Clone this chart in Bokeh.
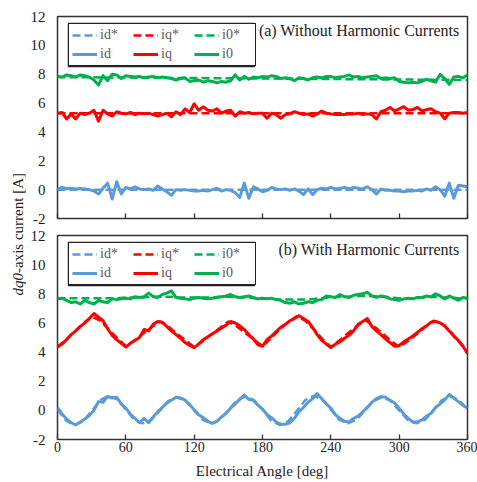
import numpy as np
from bokeh.plotting import figure
from bokeh.layouts import row, column
from bokeh.models import Legend, LegendItem, Label, FixedTicker, BoxAnnotation
from bokeh.embed import file_html
from bokeh.resources import INLINE

# ---------------- data ----------------
angle_meas = list(range(0, 361, 4))          # measured sample angles [deg]
angle_ref_a = [0, 90, 180, 270, 360]          # reference sample angles, panel (a)
angle_ref_b = [i * 7.5 for i in range(49)]    # reference sample angles, panel (b)
x_ticks = [0, 60, 120, 180, 240, 300, 360]
y_ticks = [-2, 0, 2, 4, 6, 8, 10, 12]
y_tick_labels = {-2: "-2", 0: "0", 2: "2", 4: "4", 6: "6", 8: "8", 10: "10", 12: "12"}

# (a) Without harmonic currents -- references
a_id_ref = [0.0, 0.0, 0.0, 0.0, 0.0]
a_iq_ref = [5.3, 5.3, 5.3, 5.3, 5.3]
a_i0_ref = [7.8, 7.75, 7.7, 7.65, 7.6]

# (a) measured
a_id = [0.00, 0.15, 0.08, 0.10, 0.05, 0.08, 0.05, 0.00, -0.10, -0.30,
        0.10, 0.45, -0.65, 0.55, -0.30, 0.15, 0.05, 0.20, 0.05, 0.00,
        0.05, -0.05, 0.25, 0.05, -0.15, -0.40, 0.00, -0.05, 0.00, -0.05,
        -0.10, -0.10, -0.05, -0.10, 0.00, 0.10, -0.10, 0.00, -0.05, -0.20,
        -0.55, 0.45, -0.60, 0.20, 0.05, -0.15, -0.05, 0.15, 0.05, 0.00,
        0.05, -0.05, 0.05, -0.10, -0.35, 0.05, -0.35, 0.00, 0.10, 0.05,
        0.15, 0.05, 0.10, 0.15, 0.05, 0.15, 0.10, 0.05, 0.20, 0.00,
        -0.30, 0.05, -0.05, -0.05, -0.10, -0.10, -0.15, -0.10, -0.10, -0.05,
        -0.10, 0.05, -0.05, 0.20, 0.00, -0.45, 0.45, -0.60, 0.30, 0.25,
        0.20]
a_iq = [5.30, 5.35, 4.90, 5.25, 4.90, 5.30, 5.20, 5.30, 5.50, 4.75,
        5.50, 5.25, 5.10, 5.40, 5.30, 5.25, 5.35, 5.20, 5.30, 5.25,
        5.30, 5.20, 5.10, 5.20, 5.30, 5.05, 5.40, 5.20, 5.60, 5.35,
        5.95, 5.50, 5.75, 5.50, 5.45, 5.60, 5.30, 5.45, 5.50, 5.10,
        5.40, 5.30, 5.35, 5.25, 5.30, 5.30, 4.95, 5.30, 5.20, 4.95,
        5.20, 5.25, 5.40, 5.30, 5.20, 5.25, 5.10, 5.25, 5.45, 5.30,
        5.25, 5.20, 5.20, 5.20, 5.25, 5.25, 5.30, 5.20, 5.25, 5.20,
        4.90, 5.40, 5.50, 5.70, 5.45, 5.60, 5.75, 5.50, 5.55, 5.70,
        5.45, 5.55, 5.60, 5.40, 5.30, 4.90, 5.30, 5.35, 5.35, 5.30,
        5.35]
a_i0 = [7.85, 7.80, 7.95, 7.90, 7.80, 7.95, 7.90, 7.80, 7.60, 7.25,
        7.90, 7.55, 8.00, 7.95, 7.70, 7.90, 7.85, 7.80, 7.85, 7.75,
        7.80, 7.85, 7.75, 7.80, 7.75, 7.70, 7.60, 7.70, 7.75, 7.50,
        7.55, 7.60, 7.45, 7.55, 7.50, 7.40, 7.50, 7.45, 7.55, 7.95,
        7.60, 7.85, 7.65, 7.80, 7.75, 7.85, 7.80, 7.90, 7.85, 7.70,
        7.75, 7.70, 7.55, 7.75, 7.70, 7.60, 7.75, 7.80, 7.75, 7.85,
        7.85, 7.75, 7.80, 7.85, 7.95, 7.80, 7.85, 7.75, 7.80, 7.85,
        7.90, 7.70, 7.75, 7.70, 7.75, 7.50, 7.45, 7.40, 7.45, 7.40,
        7.50, 7.65, 7.55, 7.45, 8.00, 7.70, 7.30, 7.80, 7.85, 7.75,
        7.95]

# (b) With harmonic currents -- references
b_id_ref = [0.05, -0.70, -1.00, -0.75, -0.05, 0.70, 1.00, 0.75, 0.05, -0.65,
            -0.90, -0.65, 0.00, 0.65, 0.90, 0.65, 0.00, -0.65, -0.90, -0.65,
            0.00, 0.70, 0.95, 0.70, 0.05, -0.70, -1.00, -0.75, -0.05, 0.70,
            1.00, 0.75, 0.05, -0.65, -0.90, -0.65, 0.00, 0.65, 0.90, 0.65,
            0.00, -0.65, -0.90, -0.65, 0.00, 0.70, 0.95, 0.70, 0.05]
b_iq_ref = [4.35, 4.85, 5.40, 5.95, 6.45, 6.15, 5.55, 4.95, 4.40, 4.80,
            5.25, 5.70, 6.10, 5.75, 5.25, 4.80, 4.35, 4.75, 5.20, 5.65,
            6.10, 5.75, 5.30, 4.85, 4.40, 4.95, 5.55, 6.05, 6.45, 6.15,
            5.55, 4.90, 4.35, 4.80, 5.30, 5.75, 6.20, 5.80, 5.30, 4.80,
            4.35, 4.75, 5.20, 5.70, 6.15, 5.95, 5.40, 4.70, 4.05]
b_i0_ref = [7.70, 7.70, 7.70, 7.70, 7.70, 7.70, 7.70, 7.70, 7.75, 7.75,
            7.75, 7.80, 7.80, 7.80, 7.75, 7.75, 7.75, 7.75, 7.75, 7.80,
            7.80, 7.75, 7.75, 7.70, 7.70, 7.65, 7.60, 7.60, 7.60, 7.60,
            7.65, 7.70, 7.75, 7.80, 7.80, 7.85, 7.85, 7.85, 7.80, 7.75,
            7.70, 7.70, 7.70, 7.75, 7.80, 7.75, 7.75, 7.70, 7.70]

# (b) measured
b_id = [0.20, -0.25, -0.60, -0.85, -1.00, -0.80, -0.60, -0.35, 0.00, 0.60,
        0.55, 0.95, 0.85, 0.90, 0.45, 0.15, -0.25, -0.55, -0.85, -0.55,
        -0.85, -0.45, -0.10, 0.20, 0.50, 0.70, 0.90, 0.85, 0.70, 0.40,
        0.05, -0.30, -0.50, -0.75, -0.90, -0.75, -0.45, -0.20, 0.15, 0.45,
        0.75, 1.05, 0.75, 0.70, 0.35, 0.10, -0.30, -0.50, -0.80, -0.95,
        -0.95, -0.85, -0.55, -0.10, 0.20, 0.55, 0.80, 1.15, 0.80, 0.45,
        0.15, -0.30, -0.55, -0.75, -0.80, -0.55, -0.40, -0.10, 0.20, 0.55,
        0.80, 0.95, 0.90, 0.70, 0.50, 0.15, -0.25, -0.55, -0.80, -0.80,
        -0.65, -0.40, -0.20, 0.20, 0.45, 0.70, 1.10, 0.85, 0.60, 0.35,
        0.15]
b_iq = [4.35, 4.55, 4.85, 5.20, 5.45, 5.75, 6.00, 6.30, 6.65, 6.40,
        6.15, 5.60, 5.15, 4.85, 4.60, 4.35, 4.60, 4.80, 5.00, 5.55,
        5.45, 5.90, 6.10, 6.05, 5.75, 5.45, 5.20, 4.95, 4.65, 4.45,
        4.30, 4.55, 4.85, 5.05, 5.25, 5.45, 5.65, 5.85, 6.10, 6.00,
        5.80, 5.55, 5.20, 4.90, 4.50, 4.40, 4.85, 5.10, 5.40, 5.70,
        5.90, 6.15, 6.30, 6.50, 6.30, 6.10, 5.70, 5.20, 4.80, 4.55,
        4.30, 4.55, 4.70, 4.95, 5.15, 5.45, 5.90, 6.10, 6.30, 5.75,
        5.45, 5.20, 4.90, 4.65, 4.40, 4.45, 4.70, 4.90, 5.10, 5.35,
        5.60, 5.80, 6.05, 6.10, 6.00, 5.80, 5.45, 5.10, 4.80, 4.40,
        3.90]
b_i0 = [7.65, 7.70, 7.55, 7.40, 7.45, 7.30, 7.55, 7.40, 7.30, 7.55,
        7.45, 7.40, 7.65, 7.60, 7.65, 7.70, 7.65, 7.80, 7.75, 7.80,
        8.05, 7.80, 7.75, 7.95, 8.05, 8.20, 7.75, 7.70, 7.65, 7.60,
        7.70, 7.75, 7.70, 7.65, 7.70, 7.75, 7.80, 7.85, 7.95, 7.80,
        7.75, 7.80, 7.85, 7.75, 7.65, 7.70, 7.65, 7.70, 7.60, 7.55,
        7.40, 7.35, 7.45, 7.30, 7.35, 7.45, 7.40, 7.55, 7.60, 7.85,
        7.80, 7.75, 7.95, 7.80, 7.75, 7.90, 7.95, 8.00, 8.10, 7.85,
        7.75, 7.85, 7.80, 7.65, 7.60, 7.55, 7.65, 7.70, 7.65, 7.75,
        7.75, 7.85, 7.80, 8.00, 7.85, 7.65, 7.85, 7.70, 7.55, 7.75,
        7.70]

for s in (a_id, a_iq, a_i0, b_id, b_iq, b_i0):
    assert len(s) == len(angle_meas)
for s in (b_id_ref, b_iq_ref, b_i0_ref):
    assert len(s) == len(angle_ref_b)

# ---------------- style ----------------
SERIF = "Liberation Serif"
C_D, C_Q, C_0 = "#5B9BD5", "#FF0000", "#00B050"
TXT = "#222222"
FRAME = "#333333"
FRAME_W = 410
X0, X1, Y0, Y1 = 0, 360, -2, 12
# legend box geometry in screen pixels (relative to frame top-left)
LEG_DX, LEG_DY, LEG_W, LEG_H = 11, 7, 186, 43


def panel(height, top, bottom, frame_h, show_xlabels, title,
          refs, meas, ref_angles):
    p = figure(width=451, height=height, x_range=(X0, X1), y_range=(Y0, Y1),
               output_backend="svg", toolbar_location=None,
               min_border_left=31, min_border_right=10,
               min_border_top=top, min_border_bottom=bottom)
    p.xgrid.visible = False
    p.ygrid.visible = False
    p.outline_line_color = FRAME
    p.outline_line_width = 1.5
    p.outline_line_alpha = 1.0
    p.background_fill_color = "white"
    p.border_fill_color = "white"

    xa = p.xaxis[0]
    xa.ticker = FixedTicker(ticks=x_ticks)
    xa.axis_line_color = None
    xa.major_tick_in = 5
    xa.major_tick_out = 0
    xa.major_tick_line_color = FRAME
    xa.major_tick_line_width = 1.3
    xa.minor_tick_line_color = None
    xa.major_label_text_font = SERIF
    xa.major_label_text_color = TXT
    if show_xlabels:
        xa.major_label_text_font_size = "14px"
        xa.major_label_standoff = 2
        xa.axis_label = "Electrical Angle [deg]"
        xa.axis_label_text_font = SERIF
        xa.axis_label_text_font_size = "15px"
        xa.axis_label_text_font_style = "normal"
        xa.axis_label_text_color = TXT
        xa.axis_label_standoff = 8
    else:
        xa.major_label_text_font_size = "1px"
        xa.major_label_text_color = None
        xa.major_label_standoff = 0

    ya = p.yaxis[0]
    ya.ticker = FixedTicker(ticks=y_ticks)
    ya.major_label_overrides = y_tick_labels
    ya.axis_line_color = None
    ya.major_tick_in = 0
    ya.major_tick_out = 0
    ya.minor_tick_line_color = None
    ya.major_label_text_font = SERIF
    ya.major_label_text_font_size = "15px"
    ya.major_label_text_color = TXT
    ya.major_label_standoff = 12

    colors = [C_D, C_Q, C_0]
    names = ["id", "iq", "i0"]
    ref_r = []
    for vals, c in zip(refs, colors):
        ref_r.append(p.line(ref_angles, vals, line_color=c, line_width=2.5,
                            line_dash="8 4"))
    meas_r = []
    for vals, c in zip(meas, colors):
        meas_r.append(p.line(angle_meas, vals, line_color=c, line_width=3.0,
                             line_join="round"))

    items = [LegendItem(label=n + "*", renderers=[r]) for n, r in zip(names, ref_r)]
    items += [LegendItem(label=n, renderers=[r]) for n, r in zip(names, meas_r)]
    leg = Legend(items=items, location=(LEG_DX, frame_h - LEG_DY - LEG_H),
                 orientation="horizontal",
                 ncols=3, margin=0, padding=3, spacing=3,
                 glyph_width=25, glyph_height=14, label_standoff=3,
                 label_width=30, label_height=14,
                 label_text_font=SERIF, label_text_font_size="14px",
                 label_text_color="#595959",
                 border_line_color="#222222", border_line_width=1.5,
                 border_line_alpha=1.0,
                 background_fill_color="white", background_fill_alpha=1.0)
    p.add_layout(leg)

    # legend frame (drawn explicitly so that it is clearly visible)
    sx = (X1 - X0) / FRAME_W
    sy = (Y1 - Y0) / frame_h
    p.add_layout(BoxAnnotation(left=X0 + LEG_DX * sx,
                               right=X0 + (LEG_DX + LEG_W) * sx,
                               top=Y1 - LEG_DY * sy,
                               bottom=Y1 - (LEG_DY + LEG_H) * sy,
                               fill_color=None, fill_alpha=0,
                               line_color="#222222", line_width=1.5,
                               line_alpha=1.0))

    p.add_layout(Label(x=353, y=11.05, text=title, text_align="right",
                       text_baseline="middle", text_font=SERIF,
                       text_font_size="16px", text_color=TXT))
    return p


p1 = panel(227, 16, 9, 202, False, "(a) Without Harmonic Currents",
           [a_id_ref, a_iq_ref, a_i0_ref], [a_id, a_iq, a_i0], angle_ref_a)
p2 = panel(255, 8, 43, 204, True, "(b) With Harmonic Currents",
           [b_id_ref, b_iq_ref, b_i0_ref], [b_id, b_iq, b_i0], angle_ref_b)

# y-axis title column
lab = figure(width=26, height=482, x_range=(0, 26), y_range=(0, 482),
             output_backend="svg", toolbar_location=None,
             x_axis_location=None, y_axis_location=None, min_border=0)
lab.grid.visible = False
lab.outline_line_color = None
lab.add_layout(Label(x=17, y=187, text="dq0", angle=np.pi / 2,
                     text_font=SERIF, text_font_style="italic",
                     text_font_size="15px", text_align="left",
                     text_baseline="middle", text_color=TXT))
lab.add_layout(Label(x=17, y=209.5, text="-axis current [A]", angle=np.pi / 2,
                     text_font=SERIF, text_font_size="15px", text_align="left",
                     text_baseline="middle", text_color=TXT))

layout = row(lab, column(p1, p2))

open("out.html", "w").write(file_html(layout, INLINE))
